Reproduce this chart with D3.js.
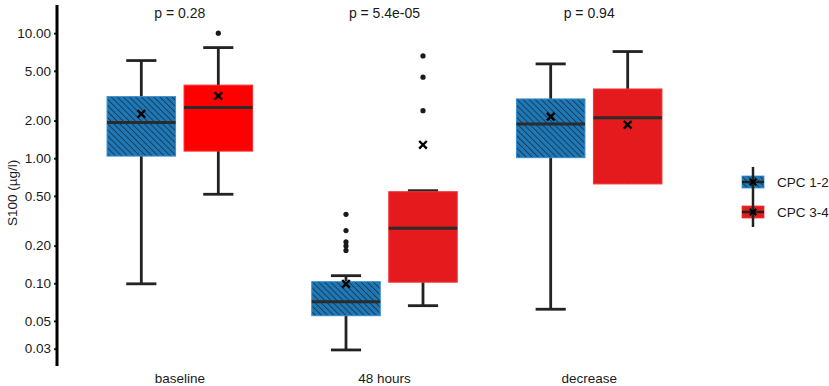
<!DOCTYPE html>
<html>
<head>
<meta charset="utf-8">
<script src="https://cdn.jsdelivr.net/npm/d3@7"></script>
<style>
  body { margin: 0; background: #fff; }
  text { font-family: "Liberation Sans", Arial, sans-serif; fill: #1a1a1a; }
</style>
</head>
<body>
<div id="chart-area"></div>
<script>
// Data
let groups = ["baseline", "48 hours", "decrease"];
let series = ["CPC 1-2", "CPC 3-4"];
let pLabels = ["p = 0.28", "p = 5.4e-05", "p = 0.94"];
let yTicks = [0.03, 0.05, 0.10, 0.20, 0.50, 1.00, 2.00, 5.00, 10.00];

// [lower whisker, q1, median, q3, upper whisker, mean] per group
let cpc12 = [
    [0.099, 1.04, 1.93, 3.11, 6.04, 2.26],
    [0.0293, 0.055, 0.0713, 0.103, 0.115, 0.099],
    [0.062, 1.01, 1.88, 2.98, 5.68, 2.15]
];
let cpc34 = [
    [0.515, 1.14, 2.54, 3.84, 7.67, 3.15],
    [0.0662, 0.102, 0.275, 0.54, 0.55, 1.28],
    [0.623, 0.623, 2.11, 3.58, 7.13, 1.85]
];
let outliers12 = [[], [0.356, 0.264, 0.214, 0.199, 0.183], []];
let outliers34 = [[10.0], [6.58, 4.45, 2.40], []];

let fills = ["#1f78b4", "#e41a1c"];
let strokes = ["#3a8fd0", "#f03a3c"];

// SVG drawing area
let W = 829, H = 386;
let svg = d3.select("#chart-area").append("svg")
    .attr("width", W)
    .attr("height", H);

let defs = svg.append("defs");
let pat = defs.append("pattern")
    .attr("id", "hatch")
    .attr("patternUnits", "userSpaceOnUse")
    .attr("width", 4.3)
    .attr("height", 4.3)
    .attr("patternTransform", "rotate(-45)");
pat.append("rect").attr("width", 4.3).attr("height", 4.3).attr("fill", fills[0]);
pat.append("line")
    .attr("x1", 0.5).attr("y1", 0).attr("x2", 0.5).attr("y2", 4.3)
    .attr("stroke", "#10304f").attr("stroke-width", 0.8);

// Scales
let x = d3.scalePoint()
    .domain(groups)
    .range([57, 712])
    .padding(0.6);

let xSub = d3.scaleBand()
    .domain(series)
    .range([-77, 77]);

let y = d3.scaleLog()
    .domain([0.0218, 16.8])
    .range([366, 5]);

let boxW = xSub.bandwidth() * 0.89;
let capW = boxW * 0.44;

// Axis
let yAxis = d3.axisLeft(y)
    .tickValues(yTicks)
    .tickFormat(d3.format(".2f"))
    .tickSize(3)
    .tickPadding(3);

let yAxisGroup = svg.append("g")
    .attr("transform", "translate(57,0)")
    .call(yAxis);
yAxisGroup.select(".domain").remove();
yAxisGroup.selectAll(".tick line").attr("stroke", "#222").attr("stroke-width", 2);
yAxisGroup.selectAll(".tick text").attr("font-size", 13.5).attr("fill", "#1a1a1a")
    .style("font-family", "Liberation Sans, Arial, sans-serif");
yAxisGroup.append("line")
    .attr("x1", 0).attr("x2", 0)
    .attr("y1", y.range()[1]).attr("y2", y.range()[0])
    .attr("stroke", "#000").attr("stroke-width", 3);

svg.append("text")
    .attr("transform", "translate(12," + (y(0.5) - 3) + ") rotate(-90)")
    .attr("text-anchor", "middle")
    .attr("dy", "0.35em")
    .attr("font-size", 13.5)
    .text("S100 (\u00b5g/l)");

// x labels and p values
svg.selectAll(".xlab").data(groups).enter().append("text")
    .attr("class", "xlab")
    .attr("x", d => x(d))
    .attr("y", 378)
    .attr("dy", "0.35em")
    .attr("text-anchor", "middle")
    .attr("font-size", 13.5)
    .text(d => d);

svg.selectAll(".plab").data(pLabels).enter().append("text")
    .attr("class", "plab")
    .attr("x", (d, i) => x(groups[i]))
    .attr("y", 13)
    .attr("dy", "0.35em")
    .attr("text-anchor", "middle")
    .attr("font-size", 14)
    .text(d => d);

// Boxes
let boxData = [];
groups.forEach(function(g, i) {
    [cpc12, cpc34].forEach(function(arr, s) {
        let v = arr[i];
        boxData.push({
            group: g, s: s, lo: v[0], q1: v[1], med: v[2], q3: v[3], hi: v[4], mean: v[5],
            out: (s === 0 ? outliers12 : outliers34)[i]
        });
    });
});

let box = svg.selectAll(".box").data(boxData).enter().append("g")
    .attr("class", "box")
    .attr("transform", d => "translate(" + (x(d.group) + xSub(series[d.s]) + xSub.bandwidth() / 2) + ",0)");

// whiskers
box.append("line")
    .attr("x1", 0).attr("x2", 0)
    .attr("y1", d => y(d.hi)).attr("y2", d => y(d.lo))
    .attr("stroke", "#222").attr("stroke-width", 2.8);
box.filter(d => d.hi > d.q3).append("line")
    .attr("x1", -capW / 2).attr("x2", capW / 2)
    .attr("y1", d => y(d.hi)).attr("y2", d => y(d.hi))
    .attr("stroke", "#222").attr("stroke-width", 2.8);
box.filter(d => d.lo < d.q1).append("line")
    .attr("x1", -capW / 2).attr("x2", capW / 2)
    .attr("y1", d => y(d.lo)).attr("y2", d => y(d.lo))
    .attr("stroke", "#222").attr("stroke-width", 2.8);

box.append("rect")
    .attr("x", -boxW / 2)
    .attr("width", boxW)
    .attr("y", d => y(d.q3))
    .attr("height", d => y(d.q1) - y(d.q3))
    .attr("fill", d => d.s === 0 ? "url(#hatch)" : (d.group === "baseline" ? "#ff0000" : fills[1]))
    .attr("stroke", d => d.s === 0 ? strokes[0] : (d.group === "baseline" ? "#ff2a2a" : strokes[1]))
    .attr("stroke-width", 1);

box.append("line")
    .attr("x1", -boxW / 2).attr("x2", boxW / 2)
    .attr("y1", d => y(d.med)).attr("y2", d => y(d.med))
    .attr("stroke", "#2b2b2b").attr("stroke-width", 3);

box.selectAll(".out").data(d => d.out).enter().append("circle")
    .attr("class", "out")
    .attr("cx", 0)
    .attr("cy", d => y(d))
    .attr("r", 2.6)
    .attr("fill", "#1a1a1a");

// mean markers
let cross = d3.symbol().type(d3.symbolX).size(40);
box.append("path")
    .attr("d", cross)
    .attr("transform", d => "translate(0," + y(d.mean) + ")")
    .attr("fill", "none")
    .attr("stroke", "#000")
    .attr("stroke-width", 2.4);

// Legend
let legend = svg.selectAll(".legend").data(series).enter().append("g")
    .attr("class", "legend")
    .attr("transform", (d, i) => "translate(753," + (182 + i * 30) + ")");

legend.append("rect")
    .attr("x", -11).attr("y", -6)
    .attr("width", 22).attr("height", 12)
    .attr("fill", (d, i) => i === 0 ? "url(#hatch)" : fills[1])
    .attr("stroke", (d, i) => strokes[i]).attr("stroke-width", 0.8);
legend.append("line")
    .attr("x1", 0).attr("x2", 0).attr("y1", -15).attr("y2", 15)
    .attr("stroke", "#222").attr("stroke-width", 2.5);
legend.append("line")
    .attr("x1", -11).attr("x2", 11).attr("y1", 0).attr("y2", 0)
    .attr("stroke", "#222").attr("stroke-width", 2.5);
legend.append("path")
    .attr("d", d3.symbol().type(d3.symbolX).size(30))
    .attr("fill", "none").attr("stroke", "#000").attr("stroke-width", 2);
legend.append("text")
    .attr("x", 24)
    .attr("dy", "0.35em")
    .attr("font-size", 13.5)
    .text(d => d);
</script>
</body>
</html>
